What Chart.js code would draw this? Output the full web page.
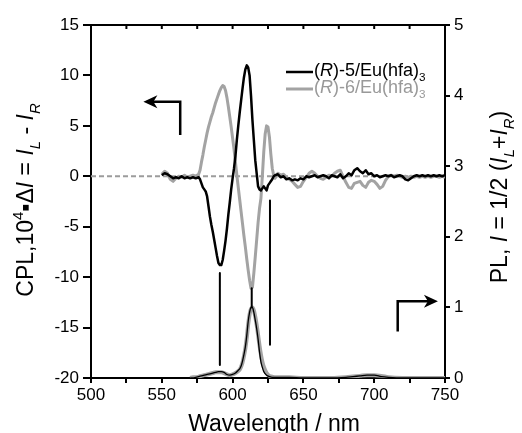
<!DOCTYPE html>
<html>
<head>
<meta charset="utf-8">
<script src="https://cdn.jsdelivr.net/npm/chart.js@4.4.0/dist/chart.umd.min.js"></script>
<style>
  html, body { margin: 0; padding: 0; background: #fff; }
  #wrap { width: 522px; height: 433px; position: relative; }
</style>
</head>
<body>
<div id="wrap"><canvas id="chart"></canvas></div>
<script>
const FONT = 'Arial, "Liberation Sans", Helvetica, sans-serif';

// CPL spectra (left axis, 10^4 x dI)
const cplWavelength = [
  550,552,554,556,558,560,562,564,566,568,570,572,574,576,
  577,578,579,580,581,582,583,584,585,586,587,588,589,590,591,592,593,594,595,596,
  597,598,599,600,601,602,603,604,605,606,607,608,609,610,611,612,613,614,615,616,
  617,618,619,620,621,622,623,624,625,626,627,628,629,630,
  632,634,636,638,640,642,644,646,648,650,652,654,656,658,660,662,664,666,668,670,
  672,674,676,678,680,682,684,686,688,690,692,694,696,698,700,702,704,706,708,710,
  712,714,716,718,720,722,724,726,728,730,732,734,736,738,740,742,744,746,748,750
];
const cpl5 = [
  0.1,0.3,0.2,0.0,-0.2,-0.1,-0.2,0.0,-0.2,-0.1,-0.2,-0.1,-0.2,-0.1,
  -0.3,-0.7,-1.1,-1.3,-1.5,-2.0,-3.0,-4.0,-4.8,-5.5,-6.3,-7.1,-7.9,-8.6,-8.8,-8.8,-8.3,-7.4,-6.4,-5.2,
  -3.8,-2.6,-1.3,-0.2,0.8,2.0,3.6,5.0,6.3,7.5,8.7,9.8,10.6,11.0,10.8,10.0,8.0,5.6,3.6,1.6,
  0.3,-1.0,-1.3,-1.4,-1.2,-1.0,-1.2,-1.4,-0.9,-0.7,-0.5,-0.3,0.0,0.1,
  0.2,-0.1,0.0,-0.3,-0.2,-0.4,-0.3,-0.4,-0.2,-0.3,0.0,-0.1,0.0,0.1,-0.1,0.0,0.1,0.0,-0.2,0.1,
  0.0,-0.1,0.2,-0.2,0.0,0.3,0.1,0.6,0.8,0.5,0.3,0.6,0.2,0.3,0.0,0.1,-0.1,0.0,0.1,0.0,
  0.1,-0.1,0.0,0.1,0.0,-0.3,-0.4,-0.2,0.0,0.1,0.0,0.1,0.0,0.1,0.0,0.1,0.0,0.1,0.0,0.1
];
const cpl6 = [
  0.2,0.5,0.3,-0.3,-0.5,-0.2,0.0,-0.1,0.1,-0.1,0.0,0.1,0.0,0.2,
  0.6,1.4,2.1,2.9,3.6,4.3,4.9,5.4,5.9,6.3,6.8,7.3,7.7,8.1,8.5,8.8,9.0,8.9,8.5,7.8,
  6.9,5.9,4.9,3.8,2.7,1.4,0.1,-1.1,-2.3,-3.5,-4.7,-5.9,-7.0,-8.2,-9.3,-10.3,-11.1,-11.0,-9.6,-8.0,
  -6.3,-4.6,-3.2,-2.2,0.0,2.4,4.2,5.0,4.9,3.9,2.2,0.8,0.1,-0.2,
  0.3,0.1,0.2,-0.1,-0.3,-0.5,-0.8,-1.1,-1.0,-0.5,-0.1,0.3,0.5,0.3,0.0,-0.2,-0.3,-0.1,0.1,0.0,
  0.3,0.5,0.6,0.0,-0.6,-1.1,-1.2,-0.7,-0.6,-0.5,-0.9,-1.1,-0.6,-0.4,-0.5,-0.8,-1.2,-1.0,-0.4,0.0,
  0.1,0.0,0.1,0.0,-0.1,0.0,-0.1,0.0,-0.1,0.0,-0.1,0.0,-0.1,0.0,-0.1,0.0,0.0,-0.1,0.0,-0.1
];

// PL spectra (right axis)
const plWavelength = [
  570,572,574,576,578,580,582,584,586,588,590,592,594,596,598,600,602,604,
  605,606,607,608,609,610,611,612,613,614,615,616,617,618,619,620,621,622,
  624,626,628,630,635,640,650,660,670,680,685,690,695,700,705,710,720,730,740,750
];
const pl5 = [
  0,0,0.01,0.02,0.03,0.04,0.05,0.06,0.07,0.08,0.09,0.09,0.08,0.05,0.04,0.05,0.07,0.11,
  0.13,0.17,0.24,0.33,0.44,0.6,0.8,0.93,1.0,1.0,0.93,0.82,0.7,0.55,0.37,0.23,0.15,0.09,
  0.04,0.02,0.01,0.01,0.01,0.01,0,0,0,0.01,0.02,0.03,0.04,0.04,0.02,0.01,0,0,0,0
];
const pl6 = [
  0,0.01,0.01,0.02,0.03,0.04,0.05,0.06,0.07,0.08,0.08,0.08,0.07,0.05,0.04,0.05,0.07,0.1,
  0.12,0.16,0.22,0.31,0.42,0.57,0.76,0.9,0.98,1.0,0.96,0.87,0.75,0.61,0.46,0.33,0.23,0.16,
  0.07,0.03,0.02,0.01,0.01,0.01,0,0,0,0.01,0.02,0.03,0.04,0.04,0.03,0.01,0,0,0,0
];

// guide lines and arrows (data units, left axis)
const markerX = [591, 613.5, 626.4];
const markerTop = [-9.6, -11.1, -2.4];
const markerBottom = [-18.7, -13.0, -16.7];
const zeroLineX = [500, 750];
const leftArrowX = [563, 563, 537];
const leftArrowY = [4.1, 7.4, 7.4];
const rightArrowX = [716.6, 716.6, 745];
const rightArrowY = [-15.4, -12.4, -12.4];

const compounds = ['5', '6'];
const seriesColors = ['#000000', '#a3a3a3'];
const legendTextColors = ['#000000', '#999999'];

const pts = (xs, ys) => xs.map((x, i) => ({ x: x, y: ys[i] }));

const markerData = [];
markerX.forEach((x, i) => {
  markerData.push({ x: x, y: markerTop[i] }, { x: x, y: markerBottom[i] }, { x: x, y: null });
});

function drawRich(ctx, parts, x, y, size) {
  let cx = x;
  parts.forEach(p => {
    const s = (p.sub || p.sup) ? size * 0.65 : size;
    ctx.font = (p.it ? 'italic ' : '') + s + 'px ' + FONT;
    const dy = p.sub ? size * 0.3 : (p.sup ? -size * 0.42 : 0);
    ctx.fillText(p.t, cx, y + dy);
    cx += ctx.measureText(p.t).width;
  });
  return cx - x;
}
function richWidth(ctx, parts, size) {
  let w = 0;
  parts.forEach(p => {
    const s = (p.sub || p.sup) ? size * 0.65 : size;
    ctx.font = (p.it ? 'italic ' : '') + s + 'px ' + FONT;
    w += ctx.measureText(p.t).width;
  });
  return w;
}

const leftTitle = [
  { t: 'CPL,10' }, { t: '4', sup: 1 }, { t: '\u25AA' }, { t: '\u0394' }, { t: 'I', it: 1 },
  { t: ' = ' }, { t: 'I', it: 1 }, { t: 'L', it: 1, sub: 1 }, { t: ' - ' },
  { t: 'I', it: 1 }, { t: 'R', it: 1, sub: 1 }
];
const rightTitle = [
  { t: 'PL, ' }, { t: 'I', it: 1 }, { t: ' = 1/2 (' }, { t: 'I', it: 1 }, { t: 'L', it: 1, sub: 1 },
  { t: '+' }, { t: 'I', it: 1 }, { t: 'R', it: 1, sub: 1 }, { t: ')' }
];

function drawArrow(ctx, xs, ys, sx, sy) {
  const p = xs.map((x, i) => [sx.getPixelForValue(x), sy.getPixelForValue(ys[i])]);
  const n = p.length - 1;
  const ang = Math.atan2(p[n][1] - p[n - 1][1], p[n][0] - p[n - 1][0]);
  ctx.save();
  ctx.strokeStyle = '#000';
  ctx.fillStyle = '#000';
  ctx.lineWidth = 2.5;
  ctx.lineJoin = 'miter';
  ctx.beginPath();
  ctx.moveTo(p[0][0], p[0][1]);
  for (let i = 1; i < n; i++) ctx.lineTo(p[i][0], p[i][1]);
  ctx.lineTo(p[n][0] - Math.cos(ang) * 8, p[n][1] - Math.sin(ang) * 8);
  ctx.stroke();
  // head
  ctx.translate(p[n][0], p[n][1]);
  ctx.rotate(ang);
  ctx.beginPath();
  ctx.moveTo(0, 0);
  ctx.lineTo(-14, -6.5);
  ctx.lineTo(-10, 0);
  ctx.lineTo(-14, 6.5);
  ctx.closePath();
  ctx.fill();
  ctx.restore();
}

const decor = {
  id: 'decor',
  afterDraw(chart) {
    const ctx = chart.ctx;
    const a = chart.chartArea;
    const sx = chart.scales.x, sy = chart.scales.y;
    ctx.save();
    // top frame with inward ticks
    ctx.strokeStyle = '#000';
    ctx.lineWidth = 2;
    ctx.beginPath();
    ctx.moveTo(a.left - 1, a.top);
    ctx.lineTo(a.right + 1, a.top);
    sx.ticks.forEach(t => {
      const px = sx.getPixelForValue(t.value);
      ctx.moveTo(px, a.top);
      ctx.lineTo(px, a.top + 4);
    });
    ctx.stroke();

    drawArrow(ctx, leftArrowX, leftArrowY, sx, sy);
    drawArrow(ctx, rightArrowX, rightArrowY, sx, sy);

    // legend
    ctx.textBaseline = 'alphabetic';
    ctx.textAlign = 'left';
    compounds.forEach((c, i) => {
      const y = 72 + i * 17;
      ctx.strokeStyle = seriesColors[i];
      ctx.lineWidth = i === 0 ? 2.5 : 3;
      ctx.beginPath();
      ctx.moveTo(286, y);
      ctx.lineTo(313, y);
      ctx.stroke();
      ctx.fillStyle = legendTextColors[i];
      drawRich(ctx, [{ t: '(' }, { t: 'R', it: 1 }, { t: ')-' + c + '/Eu(hfa)' }, { t: '3', sub: 1 }], 314, y + 4, 18);
    });

    // axis titles
    ctx.fillStyle = '#000';
    ctx.font = '23px ' + FONT;
    ctx.textAlign = 'center';
    ctx.fillText('Wavelength / nm', 274, 431);
    ctx.textAlign = 'left';

    let w = richWidth(ctx, leftTitle, 23);
    ctx.save();
    ctx.translate(33, 200);
    ctx.rotate(-Math.PI / 2);
    drawRich(ctx, leftTitle, -w / 2, 0, 23);
    ctx.restore();

    w = richWidth(ctx, rightTitle, 23);
    ctx.save();
    ctx.translate(507, 197);
    ctx.rotate(-Math.PI / 2);
    drawRich(ctx, rightTitle, -w / 2, 0, 23);
    ctx.restore();

    ctx.restore();
  }
};

const tickFont = { size: 17, family: FONT };

new Chart(document.getElementById('chart'), {
  type: 'line',
  data: {
    datasets: [
      { label: 'markers', data: markerData, borderColor: '#000', borderWidth: 2, yAxisID: 'y', spanGaps: false },
      { label: '(R)-5/Eu(hfa)3 CPL', data: pts(cplWavelength, cpl5), borderColor: seriesColors[0], borderWidth: 2.5, yAxisID: 'y' },
      { label: '(R)-6/Eu(hfa)3 CPL', data: pts(cplWavelength, cpl6), borderColor: seriesColors[1], borderWidth: 3, yAxisID: 'y' },
      { label: '(R)-5/Eu(hfa)3 PL', data: pts(plWavelength, pl5), borderColor: seriesColors[0], borderWidth: 1.3, yAxisID: 'y2', cubicInterpolationMode: 'monotone' },
      { label: '(R)-6/Eu(hfa)3 PL', data: pts(plWavelength, pl6), borderColor: seriesColors[1], borderWidth: 4, yAxisID: 'y2', cubicInterpolationMode: 'monotone' },
      { label: 'zero', data: pts(zeroLineX, [0, 0]), borderColor: '#9c9c9c', borderWidth: 2, borderDash: [5, 3], yAxisID: 'y' }
    ]
  },
  options: {
    responsive: true,
    maintainAspectRatio: false,
    animation: false,
    layout: { padding: { top: 25, left: 0, right: 0, bottom: 0 } },
    elements: { point: { radius: 0 }, line: { tension: 0, borderJoinStyle: 'round' } },
    plugins: { legend: { display: false }, tooltip: { enabled: false } },
    scales: {
      x: {
        type: 'linear', position: 'bottom', min: 500, max: 750,
        ticks: { stepSize: 25, autoSkip: false, maxRotation: 0, color: '#000', font: tickFont, padding: 2,
          callback: v => (v % 50 === 0 ? v : '') },
        grid: { drawOnChartArea: false, tickLength: 5, color: '#000', lineWidth: 2 },
        border: { display: true, color: '#000', width: 2 },
        afterFit: s => { s.height = 55; }
      },
      y: {
        position: 'left', min: -20, max: 15,
        ticks: { stepSize: 5, color: '#000', font: tickFont, padding: 4 },
        grid: { drawOnChartArea: false, tickLength: 8, color: '#000', lineWidth: 2 },
        border: { display: true, color: '#000', width: 2 },
        afterFit: s => { s.width = 91; }
      },
      y2: {
        position: 'right', min: 0, max: 5,
        ticks: { stepSize: 1, color: '#000', font: tickFont, padding: 4 },
        grid: { drawOnChartArea: false, tickLength: 5, color: '#000', lineWidth: 2 },
        border: { display: true, color: '#000', width: 2 },
        afterFit: s => { s.width = 77; }
      }
    }
  },
  plugins: [decor]
});
</script>
</body>
</html>
